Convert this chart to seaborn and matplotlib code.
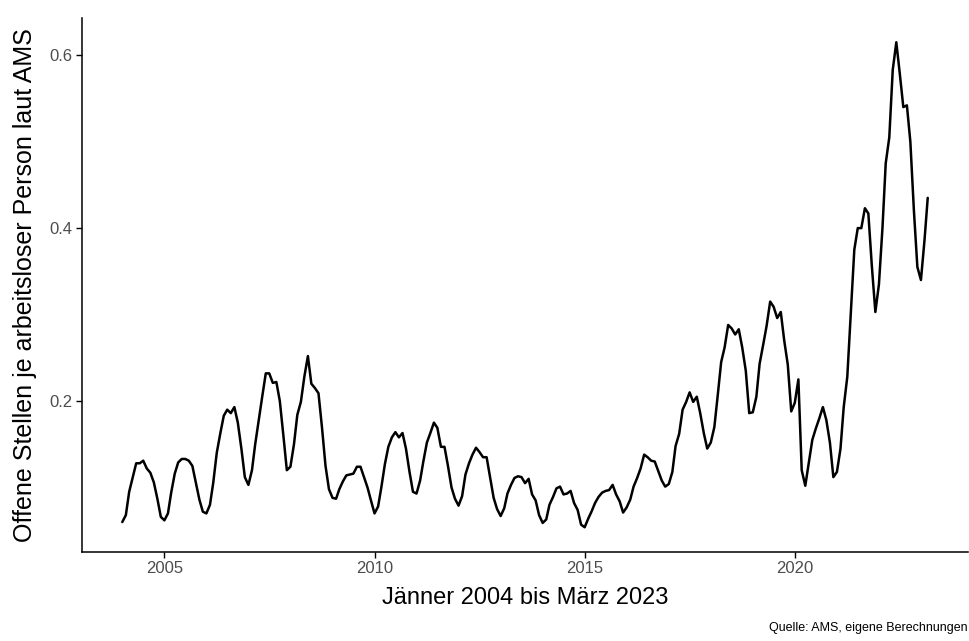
import pandas as pd
import matplotlib.pyplot as plt
import matplotlib.dates as mdates
import matplotlib.ticker as mticker
import seaborn as sns

# Offene Stellen je arbeitsloser Person (AMS), monthly, Jan 2004 - Mar 2023
start_month = "2004-01-01"
end_month = "2023-03-01"

v2004 = [0.060, 0.068, 0.095, 0.112, 0.128, 0.128, 0.131, 0.122, 0.117, 0.106, 0.087, 0.066]
v2005 = [0.062, 0.070, 0.094, 0.116, 0.129, 0.133, 0.133, 0.131, 0.125, 0.106, 0.086, 0.072]
v2006 = [0.070, 0.080, 0.105, 0.140, 0.162, 0.183, 0.190, 0.186, 0.193, 0.175, 0.145, 0.112]
v2007 = [0.103, 0.120, 0.150, 0.178, 0.205, 0.232, 0.232, 0.221, 0.222, 0.200, 0.160, 0.120]
v2008 = [0.124, 0.150, 0.184, 0.199, 0.228, 0.252, 0.220, 0.215, 0.209, 0.170, 0.125, 0.098]
v2009 = [0.088, 0.087, 0.098, 0.107, 0.114, 0.115, 0.116, 0.124, 0.124, 0.112, 0.100, 0.085]
v2010 = [0.070, 0.078, 0.100, 0.127, 0.147, 0.158, 0.164, 0.158, 0.163, 0.145, 0.118, 0.095]
v2011 = [0.093, 0.108, 0.130, 0.152, 0.163, 0.175, 0.169, 0.147, 0.147, 0.125, 0.100, 0.087]
v2012 = [0.079, 0.090, 0.115, 0.128, 0.138, 0.146, 0.141, 0.135, 0.135, 0.112, 0.088, 0.075]
v2013 = [0.067, 0.076, 0.093, 0.103, 0.111, 0.113, 0.112, 0.105, 0.110, 0.092, 0.085, 0.068]
v2014 = [0.059, 0.063, 0.080, 0.089, 0.099, 0.101, 0.092, 0.093, 0.096, 0.082, 0.074, 0.057]
v2015 = [0.054, 0.064, 0.072, 0.082, 0.089, 0.094, 0.096, 0.097, 0.103, 0.092, 0.084, 0.071]
v2016 = [0.077, 0.086, 0.101, 0.111, 0.122, 0.138, 0.135, 0.131, 0.130, 0.119, 0.108, 0.101]
v2017 = [0.104, 0.118, 0.148, 0.162, 0.190, 0.199, 0.210, 0.199, 0.205, 0.186, 0.163, 0.145]
v2018 = [0.152, 0.170, 0.205, 0.245, 0.262, 0.288, 0.284, 0.277, 0.283, 0.262, 0.235, 0.186]
v2019 = [0.187, 0.205, 0.243, 0.265, 0.287, 0.315, 0.309, 0.296, 0.303, 0.270, 0.242, 0.188]
v2020 = [0.198, 0.225, 0.120, 0.102, 0.128, 0.155, 0.168, 0.180, 0.193, 0.178, 0.152, 0.112]
v2021 = [0.118, 0.145, 0.193, 0.228, 0.300, 0.375, 0.400, 0.400, 0.423, 0.417, 0.355, 0.303]
v2022 = [0.335, 0.401, 0.475, 0.505, 0.583, 0.615, 0.579, 0.540, 0.542, 0.500, 0.420, 0.355]
v2023 = [0.340, 0.386, 0.435]

year_ticks = [2005, 2010, 2015, 2020]
y_ticks = [0.2, 0.4, 0.6]

ratio = (v2004 + v2005 + v2006 + v2007 + v2008 + v2009 + v2010 + v2011 + v2012
         + v2013 + v2014 + v2015 + v2016 + v2017 + v2018 + v2019 + v2020
         + v2021 + v2022 + v2023)
months = pd.date_range(start_month, end_month, freq="MS")
df = pd.DataFrame({"monat": months, "quote": ratio})

sns.set_theme(style="ticks")
plt.rcParams["font.family"] = ["Liberation Sans", "DejaVu Sans"]

W, H = 970, 641
fig = plt.figure(figsize=(W / 100, H / 100), dpi=100)
ax = fig.add_axes([82 / W, 89.5 / H, 886 / W, 533.5 / H])

sns.lineplot(data=df, x="monat", y="quote", color="black", linewidth=1.8, ax=ax)

# ggplot-like 5% expansion
t0, t1 = mdates.date2num(months[0]), mdates.date2num(months[-1])
dt = (t1 - t0) * 0.05
ax.set_xlim(t0 - dt, t1 + dt)
ymin, ymax = min(ratio), max(ratio)
dy = (ymax - ymin) * 0.05
ax.set_ylim(ymin - dy, ymax + dy)

ax.set_xticks([mdates.date2num(pd.Timestamp(f"{y}-01-01")) for y in year_ticks])
ax.set_xticklabels([str(y) for y in year_ticks])
ax.set_yticks(y_ticks)
ax.yaxis.set_major_formatter(mticker.FormatStrFormatter("%.1f"))

sns.despine(ax=ax)
for side in ["left", "bottom"]:
    ax.spines[side].set_color("black")
    ax.spines[side].set_linewidth(1.1)
ax.tick_params(axis="both", colors="black", length=4, width=1.0,
               labelsize=12, labelcolor="#4d4d4d", pad=3)

ax.set_xlabel("Jänner 2004 bis März 2023", fontsize=17, color="black", labelpad=8)
ax.set_ylabel("Offene Stellen je arbeitsloser Person laut AMS", fontsize=18,
              color="black", labelpad=9)

fig.text(968 / W, (H - 628) / H, "Quelle: AMS, eigene Berechnungen",
         ha="right", va="center", fontsize=9, color="black")

fig.savefig("out.png", dpi=100)
